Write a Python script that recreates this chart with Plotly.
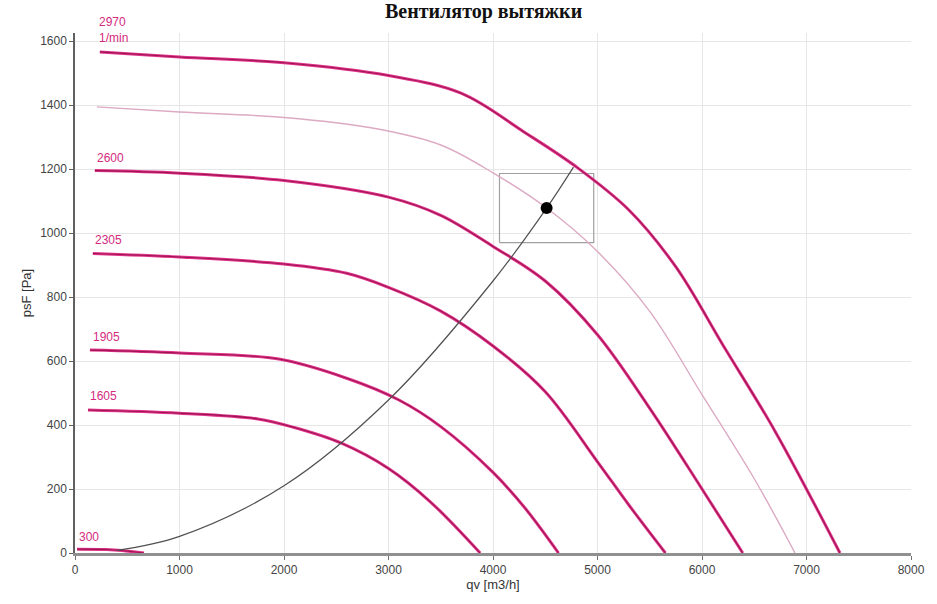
import plotly.graph_objects as go

# Fan curves: air flow qv [m3/h] vs static pressure psF [Pa] at several speeds
q_2970 = [238, 1000, 2000, 3000, 3700, 4300, 4800, 5300, 5750, 6200, 6700, 7320]
p_2970 = [1566, 1550, 1532, 1492, 1436, 1315, 1206, 1072, 894, 650, 380, 0]

q_2600 = [190, 1000, 2000, 3000, 3500, 4000, 4500, 5000, 5500, 6000, 6390]
p_2600 = [1195, 1187, 1164, 1112, 1055, 958, 850, 682, 452, 200, 0]

q_2305 = [171, 1000, 2000, 2600, 3000, 3500, 4000, 4500, 5000, 5300, 5650]
p_2305 = [936, 925, 903, 874, 830, 756, 647, 504, 285, 150, 0]

q_1905 = [143, 1000, 1950, 2600, 3100, 3500, 4000, 4300, 4627]
p_1905 = [634, 625, 606, 546, 478, 395, 252, 143, 0]

q_1605 = [124, 1000, 1750, 2100, 2550, 3000, 3400, 3877]
p_1605 = [447, 437, 419, 392, 343, 264, 160, 0]

q_300 = [20, 300, 450, 560, 660]
p_300 = [12, 11, 8, 4, 0]

# Operating speed curve (thin)
q_work = [209, 1000, 2000, 2900, 3500, 4000, 4513, 5000, 5500, 6000, 6500, 6890]
p_work = [1394, 1378, 1361, 1325, 1275, 1188, 1078, 942, 755, 495, 232, 0]

# System resistance curve
q_sys = [400, 1000, 2000, 3000, 4000, 4513, 4770]
p_sys = [8, 52, 210, 478, 850, 1078, 1206]

# Duty point and its tolerance window
q_duty = 4513
p_duty = 1078
q_win = [4062, 4964]
p_win = [970, 1186]

speed_labels = ["2600", "2305", "1905", "1605", "300"]
speed_label_pos = [(190, 1234), (170, 978), (150, 675), (125, 490), (20, 50)]

x_ticks = [0, 1000, 2000, 3000, 4000, 5000, 6000, 7000, 8000]
y_ticks = [0, 200, 400, 600, 800, 1000, 1200, 1400, 1600]

PINK = "#e2358c"
CORE = "#9e1452"
SMOOTH = 1.0

fig = go.Figure()


def speed_curve(qs, ps):
    fig.add_trace(go.Scatter(x=qs, y=ps, mode="lines",
                             line=dict(color=PINK, width=3.0, shape="spline", smoothing=SMOOTH),
                             hoverinfo="skip", showlegend=False))
    fig.add_trace(go.Scatter(x=qs, y=ps, mode="lines",
                             line=dict(color=CORE, width=1.1, shape="spline", smoothing=SMOOTH),
                             hoverinfo="skip", showlegend=False))


# tolerance window
fig.add_trace(go.Scatter(x=[q_win[0], q_win[1], q_win[1], q_win[0], q_win[0]],
                         y=[p_win[0], p_win[0], p_win[1], p_win[1], p_win[0]],
                         mode="lines", line=dict(color="#a0a0a0", width=1.2), showlegend=False, hoverinfo="skip"))

fig.add_trace(go.Scatter(x=q_work, y=p_work, mode="lines",
                         line=dict(color="#dcaac3", width=1.4, shape="spline", smoothing=SMOOTH),
                         showlegend=False, hoverinfo="skip"))

for qs, ps in [(q_2970, p_2970), (q_2600, p_2600), (q_2305, p_2305), (q_1905, p_1905), (q_1605, p_1605), (q_300, p_300)]:
    speed_curve(qs, ps)

fig.add_trace(go.Scatter(x=q_sys, y=p_sys, mode="lines",
                         line=dict(color="#505050", width=1.2, shape="spline", smoothing=SMOOTH),
                         showlegend=False, hoverinfo="skip"))

fig.add_trace(go.Scatter(x=[q_duty], y=[p_duty], mode="markers",
                         marker=dict(color="black", size=12), showlegend=False, hoverinfo="skip"))

label_font = dict(family="Liberation Sans, Arial", size=12, color="#d42a80")
annotations = []
for txt, (qx, py) in zip(speed_labels, speed_label_pos):
    annotations.append(dict(x=qx, y=py, xref="x", yref="y", text=txt, showarrow=False,
                            xanchor="left", yanchor="middle", font=label_font))
annotations.append(dict(x=215, y=1.021, xref="x", yref="paper", text="2970", showarrow=False,
                        xanchor="left", yanchor="middle", font=label_font))
annotations.append(dict(x=215, y=0.991, xref="x", yref="paper", text="1/min", showarrow=False,
                        xanchor="left", yanchor="middle", font=label_font))
annotations.append(dict(x=0.489, y=1.041, xref="paper", yref="paper", text="<b>Вентилятор вытяжки</b>",
                        showarrow=False, xanchor="center", yanchor="middle",
                        font=dict(family="Liberation Serif, Times New Roman", size=20, color="#111")))

axis_font = dict(family="Liberation Sans, Arial", size=12, color="#444")
fig.update_layout(
    width=937, height=604,
    margin=dict(l=75, r=20, t=33, b=51),
    paper_bgcolor="white", plot_bgcolor="white",
    annotations=annotations,
    xaxis=dict(range=[0, 8000], tickvals=x_ticks, ticktext=[str(v) for v in x_ticks],
               showgrid=True, gridcolor="#e6e6e6", gridwidth=1, zeroline=False,
               showline=True, linecolor="#909090", linewidth=2.5,
               ticks="outside", ticklen=4, tickcolor="#707070",
               tickfont=axis_font,
               title=dict(text="qv [m3/h]", font=dict(family="Liberation Sans, Arial", size=13, color="#333"), standoff=4)),
    yaxis=dict(range=[0, 1625], tickvals=y_ticks, ticktext=[str(v) for v in y_ticks],
               showgrid=True, gridcolor="#e6e6e6", gridwidth=1, zeroline=False,
               showline=True, linecolor="#606060", linewidth=1.5,
               ticks="outside", ticklen=4, tickcolor="#606060",
               tickfont=axis_font,
               title=dict(text="psF [Pa]", font=dict(family="Liberation Sans, Arial", size=13, color="#333"), standoff=6)),
)

fig.write_html("out.html")
